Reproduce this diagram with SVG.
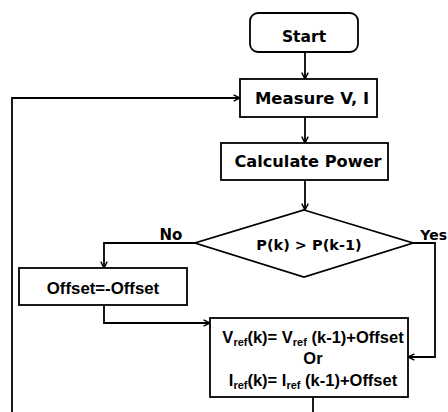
<svg xmlns="http://www.w3.org/2000/svg" width="448" height="412" viewBox="0 0 448 412">
<defs>
<marker id="arr" viewBox="0 0 10 10" refX="9" refY="5" markerWidth="8" markerHeight="8" markerUnits="userSpaceOnUse" orient="auto">
<path d="M1,1 L9,5 L1,9" fill="none" stroke="#000" stroke-width="1.8"/>
</marker>
<style>
.box{fill:#fff;stroke:#000;stroke-width:1.8}
.ln{fill:none;stroke:#000;stroke-width:1.8}
.g{font-family:"DejaVu Sans","Liberation Sans",sans-serif;font-weight:bold;text-anchor:middle;fill:#000}
.c{font-family:"Liberation Sans","Open Sans",sans-serif;font-weight:bold;text-anchor:middle;fill:#000}
</style>
</defs>
<rect width="448" height="412" fill="#fff"/>
<g id="connectors">
<path class="ln" d="M305,52 V79" marker-end="url(#arr)"/>
<path class="ln" d="M12,412 V98 H240" marker-end="url(#arr)"/>
<path class="ln" d="M305,117 V143" marker-end="url(#arr)"/>
<path class="ln" d="M305,180 V210" marker-end="url(#arr)"/>
<path class="ln" d="M195,243 H104 V268" marker-end="url(#arr)"/>
<path class="ln" d="M413,243 H435 V357 H408" marker-end="url(#arr)"/>
<path class="ln" d="M104,305 V323 H210" marker-end="url(#arr)"/>
<path class="ln" d="M313,397 V412"/>
<text class="g" x="171" y="240" font-size="15">No</text>
<text class="g" x="447" y="240" font-size="14" style="text-anchor:end">Yes</text>
</g>
<g id="start">
<rect class="box" x="250" y="13" width="108" height="39" rx="8"/>
<text class="g" x="304" y="42" font-size="15.5">Start</text>
</g>
<g id="measure">
<rect class="box" x="240" y="79" width="137" height="38"/>
<text class="g" x="312" y="104" font-size="16.5">Measure V, I</text>
</g>
<g id="calc">
<rect class="box" x="221" y="143" width="167" height="37"/>
<text class="g" x="308" y="167" font-size="16.2">Calculate Power</text>
</g>
<g id="decision">
<polygon class="box" points="304,210 413,243 304,277 195,243"/>
<text class="g" x="309" y="250" font-size="14.5">P(k) &gt; P(k-1)</text>
</g>
<g id="offset">
<rect class="box" x="19" y="268" width="168" height="37"/>
<text class="c" x="103" y="294" font-size="16.8">Offset=-Offset</text>
</g>
<g id="update">
<rect class="box" x="210" y="318" width="198" height="79"/>
<text class="c" x="313" y="343" font-size="16.5">V<tspan font-size="11" dy="3">ref</tspan><tspan dy="-3">(k)= V</tspan><tspan font-size="11" dy="3">ref</tspan><tspan dy="-3"> (k-1)+Offset</tspan></text>
<text class="c" x="313" y="364" font-size="16.5">Or</text>
<text class="c" x="313" y="386" font-size="16.5">I<tspan font-size="11" dy="3">ref</tspan><tspan dy="-3">(k)= I</tspan><tspan font-size="11" dy="3">ref</tspan><tspan dy="-3"> (k-1)+Offset</tspan></text>
</g>
</svg>
